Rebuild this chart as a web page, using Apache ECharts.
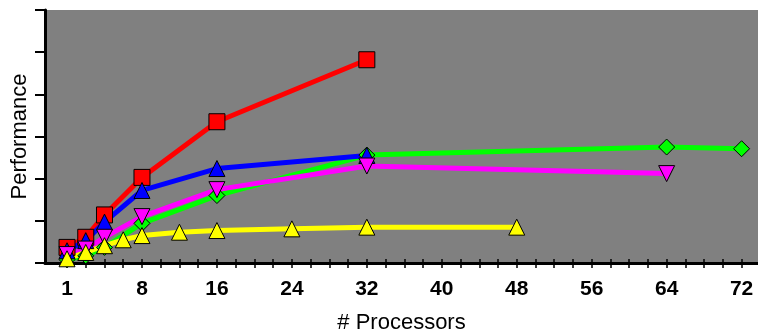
<!DOCTYPE html>
<html>
<head>
<meta charset="utf-8">
<script src="https://cdn.jsdelivr.net/npm/echarts@6/dist/echarts.min.js"></script>
<style>html,body{margin:0;padding:0;background:#fff;}#c{width:758px;height:333px;}</style>
</head>
<body>
<div id="c"></div>
<script>
// x positions as plotted (the "1 processor" point sits at position 0, labelled "1")
var xRed = [0, 2, 4, 8, 16, 32];
var yRed = [0.37, 0.61, 1.14, 2.03, 3.35, 4.82];
var xGreen = [0, 2, 4, 8, 16, 32, 64, 72];
var yGreen = [0.08, 0.17, 0.37, 0.94, 1.60, 2.56, 2.75, 2.71];
var xBlue = [0, 2, 4, 8, 16, 32];
var yBlue = [0.29, 0.53, 0.97, 1.72, 2.24, 2.55];
var xMagenta = [0, 2, 4, 8, 16, 32, 64];
var yMagenta = [0.20, 0.33, 0.61, 1.10, 1.74, 2.30, 2.12];
var xYellow = [0, 2, 4, 6, 8, 12, 16, 24, 32, 48];
var yYellow = [0.10, 0.25, 0.41, 0.55, 0.65, 0.73, 0.77, 0.81, 0.85, 0.85];

var labelValues = [0, 8, 16, 24, 32, 40, 48, 56, 64, 72];
var labelTexts = ['1', '8', '16', '24', '32', '40', '48', '56', '64', '72'];
var tickValues = [];
for (var t = 0; t <= 72; t += 2) tickValues.push(t);

function pairs(xs, ys) { return xs.map(function (x, i) { return [x, ys[i]]; }); }

var FONT = 'Liberation Sans, Arial, sans-serif';
function mk(name, color, symbol, rotate, xs, ys) {
  return {
    name: name, type: 'line', data: pairs(xs, ys),
    symbol: symbol, symbolSize: 16, symbolRotate: rotate,
    lineStyle: { color: color, width: 5 },
    itemStyle: { color: color, borderColor: '#000', borderWidth: 1 },
    emphasis: { disabled: true }
  };
}

var chart = echarts.init(document.getElementById('c'));
chart.setOption({
  animation: false,
  grid: { left: 45, right: 0, top: 10, bottom: 70, show: true, backgroundColor: '#808080', borderWidth: 0,
          containLabel: false, outerBoundsMode: 'none' },
  xAxis: [{
    type: 'value', min: -2.35, max: 73.75,
    name: '# Processors', nameLocation: 'middle', nameGap: 49,
    nameTextStyle: { fontFamily: FONT, fontSize: 22, color: '#000' },
    axisLine: { show: true, onZero: false, lineStyle: { color: '#000', width: 3 } },
    axisTick: { show: true, length: 5, lineStyle: { color: '#000', width: 1.5 }, customValues: tickValues },
    axisLabel: {
      customValues: labelValues, margin: 16,
      fontFamily: FONT, fontSize: 21, fontWeight: 'bold', color: '#000',
      formatter: function (v) { var i = labelValues.indexOf(v); return i >= 0 ? labelTexts[i] : ''; }
    },
    splitLine: { show: false }
  }, {
    type: 'value', min: -2.35, max: 73.75, position: 'bottom',
    axisLine: { show: false, onZero: false },
    axisTick: { show: true, inside: true, length: 4, lineStyle: { color: '#000', width: 1.5 }, customValues: tickValues },
    axisLabel: { show: false },
    splitLine: { show: false }
  }],
  yAxis: {
    type: 'value', min: 0, max: 6, interval: 1,
    name: 'Performance', nameLocation: 'middle', nameGap: 14, nameRotate: 90,
    nameTextStyle: { fontFamily: FONT, fontSize: 22, color: '#000' },
    axisLine: { show: true, onZero: false, lineStyle: { color: '#000', width: 3 } },
    axisTick: { show: true, length: 10, lineStyle: { color: '#000', width: 2 } },
    axisLabel: { show: false },
    splitLine: { show: false }
  },
  series: [
    mk('Red', '#ff0000', 'rect', 0, xRed, yRed),
    mk('Green', '#00ff00', 'diamond', 0, xGreen, yGreen),
    mk('Blue', '#0000ff', 'triangle', 0, xBlue, yBlue),
    mk('Magenta', '#ff00ff', 'triangle', 180, xMagenta, yMagenta),
    mk('Yellow', '#ffff00', 'triangle', 0, xYellow, yYellow)
  ]
});
</script>
</body>
</html>
